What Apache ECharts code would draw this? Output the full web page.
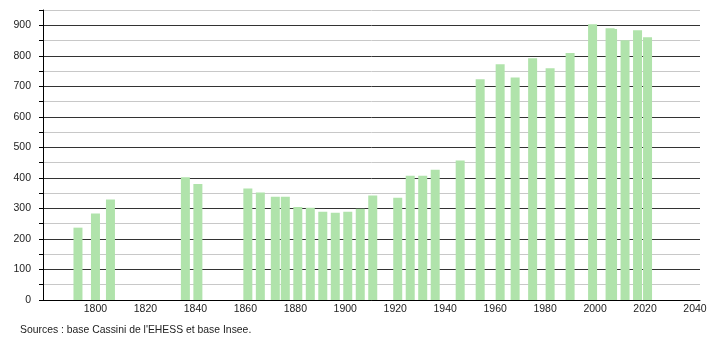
<!DOCTYPE html>
<html>
<head>
<meta charset="utf-8">
<script src="https://cdn.jsdelivr.net/npm/echarts@6/dist/echarts.min.js"></script>
<style>
html,body{margin:0;padding:0;background:#fff;}
#c{width:710px;height:340px;}
</style>
</head>
<body>
<div id="c"></div>
<script>
var years = [1793,1800,1806,1836,1841,1861,1866,1872,1876,1881,1886,1891,1896,1901,1906,1911,1921,1926,1931,1936,1946,1954,1962,1968,1975,1982,1990,1999,2006,2007,2012,2017,2021];
var population = [237,283,329,402,380,365,352,338,338,305,302,289,286,289,299,342,335,407,407,427,457,723,772,729,792,759,809,903,890,888,851,884,861];
var xTickLabels = [1800,1820,1840,1860,1880,1900,1920,1940,1960,1980,2000,2020,2040];
var sourceText = "Sources : base Cassini de l'EHESS et base Insee.";

var data = years.map(function(y,i){return [y, population[i]];});
var font = "'Liberation Sans', Arial, sans-serif";
var chart = echarts.init(document.getElementById('c'), null, {renderer:'canvas'});
chart.setOption({
  animation:false,
  backgroundColor:'#fff',
  grid:{left:43,right:10,top:10,bottom:40,containLabel:false},
  xAxis:{
    type:'value', min:1779, max:2042,
    axisLine:{show:true,onZero:false,lineStyle:{color:'#000',width:1}},
    axisTick:{show:false},
    splitLine:{show:false},
    axisLabel:{customValues:xTickLabels, color:'#222', fontSize:10.5, fontFamily:font, margin:4, formatter:function(v){return String(v);}}
  },
  yAxis:{
    type:'value', min:0, max:950, interval:50,
    axisLine:{show:true,lineStyle:{color:'#000',width:1}},
    axisTick:{show:true,length:4,lineStyle:{color:'#000'}},
    splitLine:{show:true,lineStyle:{color:['#333','#c8c8c8'],width:1}},
    axisLabel:{color:'#222', fontSize:10.5, fontFamily:font, margin:12,
      formatter:function(v){return v%100===0 ? String(v) : '';}}
  },
  series:[{
    type:'bar',
    data:data,
    barWidth:9,
    itemStyle:{color:'#b0e3ab'},
    z:3
  }],
  graphic:[{
    type:'text', left:20, top:325,
    style:{text:sourceText, fontSize:10.4, fontFamily:font, fill:'#222'}
  }]
});
</script>
</body>
</html>
